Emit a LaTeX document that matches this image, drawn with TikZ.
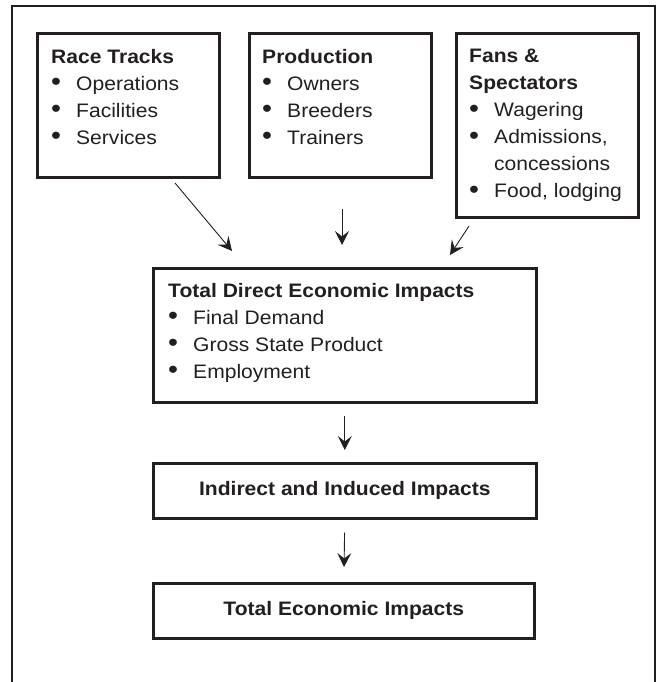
\documentclass[tikz,border=0pt]{standalone}
\usepackage{fontspec}
\setmainfont{Liberation Sans}[FakeStretch=1.08]
\usetikzlibrary{arrows.meta, positioning}
\definecolor{ink}{HTML}{231F20}
\newcommand{\bul}{\makebox[25pt][l]{\raisebox{-0.5pt}{\scalebox{1.35}{\textbullet}}}}

\begin{document}
\begin{tikzpicture}[x=1pt, y=-1pt]
      \tikzset{panel/.style = {draw=ink, line width=2.6pt, inner sep=0pt, anchor=north west}}
      \tikzset{txt/.style = {text=ink, inner sep=0pt, anchor=north west, align=left,
          font=\fontsize{19.5}{27}\selectfont}}
      \tikzset{flow/.style = {ink, line width=0.9pt, -{Stealth[length=14pt, width=14pt, inset=5.5pt]}}}
      \useasboundingbox (0,0) rectangle (663,682);
      \begin{scope}
        \clip (0,0) rectangle (663,682);
        \draw[ink, line width=2.4pt] (12,700) -- (12,6) -- (655,6) -- (655,700);
      \end{scope}

      % top row
      \node[panel, minimum width=182, minimum height=144] (race) at (36,32) {};
      \node[panel, minimum width=182, minimum height=144] (prod) at (248,32) {};
      \node[panel, minimum width=182, minimum height=184] (fans) at (455,32) {};
      \node[txt] (racetxt) at (51,49) {\textbf{Race Tracks}\\ \bul Operations\\ \bul Facilities\\ \bul Services};
      \node[txt] (prodtxt) at (262,49) {\textbf{Production}\\ \bul Owners\\ \bul Breeders\\ \bul Trainers};
      \node[txt] (fanstxt) at (469,49) {\textbf{Fans \&}\\ \textbf{Spectators}\\ \bul Wagering\\ \bul Admissions,\\ \hspace*{25pt}concessions\\ \bul Food, lodging};

      % chain
      \node[panel, minimum width=383, minimum height=134] (direct) at (152,267) {};
      \node[txt] (directtxt) at (168,283) {\textbf{Total Direct Economic Impacts}\\ \bul Final Demand\\ \bul Gross State Product\\ \bul Employment};
      \node[panel, minimum width=383, minimum height=55] (indirect) at (152,462) {};
      \node[text=ink, font=\fontsize{19.5}{27}\selectfont\bfseries] (indirecttxt) at (indirect.center) {Indirect and Induced Impacts};
      \node[panel, minimum width=381, minimum height=55] (total) at (152,582) {};
      \node[text=ink, font=\fontsize{19.5}{27}\selectfont\bfseries] (totaltxt) at (total.center) {Total Economic Impacts};

      \coordinate (a1) at (175,183);
      \coordinate (a2) at (232,251);
      \coordinate (b1) at (342,209);
      \coordinate (b2) at (342,245);
      \coordinate (c1) at (469,226);
      \coordinate (c2) at (450,255);
      \draw[flow] (a1) -- (a2);
      \draw[flow] (b1) -- (b2);
      \draw[flow] (c1) -- (c2);
      \draw[flow, shorten <=12pt, shorten >=12pt] (direct.south) -- (indirect.north);
      \draw[flow, shorten <=13pt, shorten >=15pt] (indirect.south) -- (total.north);
    \end{tikzpicture}
\end{document}
